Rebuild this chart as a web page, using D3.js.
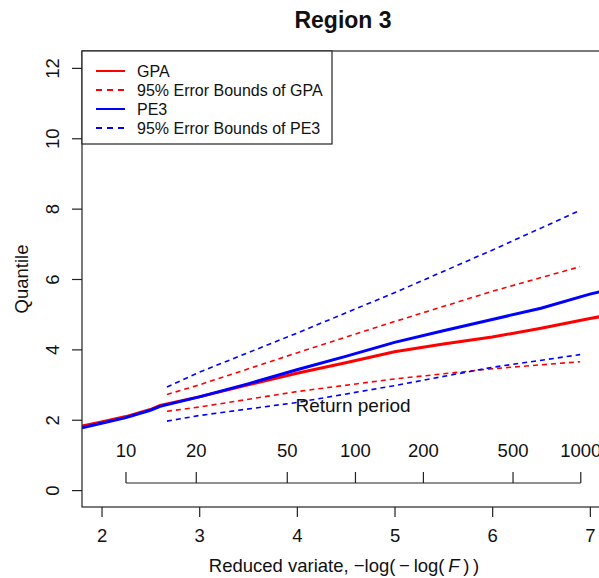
<!DOCTYPE html>
<html>
<head>
<meta charset="utf-8">
<script src="https://cdnjs.cloudflare.com/ajax/libs/d3/7.8.5/d3.min.js"></script>
<style>
  body {margin: 0; background: #fff; overflow: hidden;}
  svg text {font-family: "Liberation Sans", Arial, sans-serif; fill: #111;}
</style>
</head>
<body>
<div id="chart"></div>
<script>
// values
var fitX = [1.8, 2, 2.25, 2.5, 2.6, 3, 3.5, 4, 4.5, 5, 5.5, 6, 6.5, 7, 7.15];
var gpaY = [1.82, 1.94, 2.09, 2.29, 2.41, 2.65, 2.99, 3.32, 3.62, 3.93, 4.15, 4.35, 4.6, 4.88, 4.95];
var pe3Y = [1.77, 1.9, 2.06, 2.27, 2.38, 2.65, 3.02, 3.42, 3.8, 4.2, 4.53, 4.85, 5.17, 5.57, 5.67];

var boundX = [2.67, 3, 4, 5, 6, 6.9];
var gpaUpper = [2.72, 2.99, 3.9, 4.79, 5.65, 6.35];
var gpaLower = [2.24, 2.36, 2.8, 3.16, 3.45, 3.65];
var pe3Upper = [2.93, 3.35, 4.46, 5.61, 6.82, 7.95];
var pe3Lower = [1.96, 2.12, 2.49, 2.97, 3.49, 3.85];

var returnPeriods = [10, 20, 50, 100, 200, 500, 1000];
var xTicks = [2, 3, 4, 5, 6, 7];
var yTicks = [0, 2, 4, 6, 8, 10, 12];

var legendLabels = ["GPA", "95% Error Bounds of GPA", "PE3", "95% Error Bounds of PE3"];
var legendColors = ["#ff0000", "#ff0000", "#0000ff", "#0000ff"];
var legendDashed = [false, true, false, true];

var W = 599, H = 578;
var margin = {top: 51, left: 82, right: -5, bottom: 71};
var fontMain = "18.5px";

var svg = d3.select("#chart").append("svg")
    .attr("width", W)
    .attr("height", H);

var x = d3.scaleLinear()
    .domain([1.8, 7.145])
    .range([margin.left, W - margin.right]);

var y = d3.scaleLinear()
    .domain([-0.48, 12.48])
    .range([H - margin.bottom, margin.top]);

svg.append("clipPath").attr("id", "plotclip")
  .append("rect")
    .attr("x", x.range()[0]).attr("y", y.range()[1])
    .attr("width", x.range()[1] - x.range()[0])
    .attr("height", y.range()[0] - y.range()[1]);

var plot = svg.append("g").attr("clip-path", "url(#plotclip)");

function series(xs, ys) {
  return xs.map(function(d, i) { return [d, ys[i]]; });
}

var line = d3.line()
    .x(function(d) { return x(d[0]); })
    .y(function(d) { return y(d[1]); });

var dashedLines = [
  {data: series(boundX, gpaUpper), color: "#ff0000"},
  {data: series(boundX, gpaLower), color: "#ff0000"},
  {data: series(boundX, pe3Upper), color: "#0000ff"},
  {data: series(boundX, pe3Lower), color: "#0000ff"}
];

dashedLines.forEach(function(s) {
  plot.append("path")
    .datum(s.data)
    .attr("fill", "none")
    .attr("stroke", s.color)
    .attr("stroke-width", 1.6)
    .attr("stroke-dasharray", "5,4")
    .attr("d", line);
});

plot.append("path")
  .datum(series(fitX, gpaY))
  .attr("fill", "none")
  .attr("stroke", "#ff0000")
  .attr("stroke-width", 3)
  .attr("d", line);

plot.append("path")
  .datum(series(fitX, pe3Y))
  .attr("fill", "none")
  .attr("stroke", "#0000ff")
  .attr("stroke-width", 3)
  .attr("d", line);

// plot box
svg.append("rect")
  .attr("x", x.range()[0]).attr("y", y.range()[1])
  .attr("width", x.range()[1] - x.range()[0])
  .attr("height", y.range()[0] - y.range()[1])
  .attr("fill", "none")
  .attr("stroke", "#222")
  .attr("stroke-width", 1.2);

// bottom axis
var xAxis = svg.append("g")
  .attr("transform", "translate(0," + y.range()[0] + ")")
  .call(d3.axisBottom(x).tickValues(xTicks).tickSize(10).tickPadding(12).tickFormat(d3.format("d")));
xAxis.select(".domain").remove();
xAxis.selectAll("line").attr("stroke", "#222").attr("stroke-width", 1.2);
xAxis.selectAll("text").style("font-size", fontMain).style("font-family", "Liberation Sans, Arial, sans-serif").attr("fill", "#111");

// left axis
var yAxis = svg.append("g")
  .attr("transform", "translate(" + x.range()[0] + ",0)")
  .call(d3.axisLeft(y).tickValues(yTicks).tickSize(10).tickFormat(d3.format("d")));
yAxis.select(".domain").remove();
yAxis.selectAll("line").attr("stroke", "#222").attr("stroke-width", 1.2);
yAxis.selectAll("text")
  .style("font-size", fontMain).style("font-family", "Liberation Sans, Arial, sans-serif")
  .attr("fill", "#111")
  .attr("x", null).attr("dy", null)
  .attr("text-anchor", "middle")
  .attr("transform", "translate(-23,0) rotate(-90)");

// return period axis inside the plot
function reducedVariate(T) { return -Math.log(-Math.log(1 - 1 / T)); }
var rpY = 483;
var rp = svg.append("g");
rp.append("line")
  .attr("x1", x(reducedVariate(returnPeriods[0])))
  .attr("x2", x(reducedVariate(returnPeriods[returnPeriods.length - 1])))
  .attr("y1", rpY).attr("y2", rpY)
  .attr("stroke", "#222").attr("stroke-width", 1.2);
rp.selectAll(".rptick").data(returnPeriods).enter().append("line")
  .attr("x1", function(d) { return x(reducedVariate(d)); })
  .attr("x2", function(d) { return x(reducedVariate(d)); })
  .attr("y1", rpY).attr("y2", rpY - 11)
  .attr("stroke", "#222").attr("stroke-width", 1.2);
rp.selectAll(".rplabel").data(returnPeriods).enter().append("text")
  .attr("x", function(d) { return x(reducedVariate(d)); })
  .attr("y", rpY - 26)
  .attr("text-anchor", "middle")
  .style("font-size", fontMain)
  .text(function(d) { return d; });
rp.append("text")
  .attr("x", 353).attr("y", 412)
  .attr("text-anchor", "middle")
  .style("font-size", "19px")
  .text("Return period");

// legend
var lg = svg.append("g");
lg.append("rect")
  .attr("x", x.range()[0]).attr("y", y.range()[1])
  .attr("width", 250).attr("height", 93)
  .attr("fill", "#fff").attr("stroke", "#222").attr("stroke-width", 1.2);
legendLabels.forEach(function(lab, i) {
  var ly = 71 + i * 19;
  lg.append("line")
    .attr("x1", 96).attr("x2", 125).attr("y1", ly).attr("y2", ly)
    .attr("stroke", legendColors[i])
    .attr("stroke-width", 2)
    .attr("stroke-dasharray", legendDashed[i] ? "6,5" : null);
  lg.append("text")
    .attr("x", 137).attr("y", ly + 6)
    .style("font-size", "16px")
    .text(lab);
});

// titles
svg.append("text")
  .attr("x", 343).attr("y", 28)
  .attr("text-anchor", "middle")
  .style("font-size", "23px").style("font-weight", "bold")
  .text("Region 3");

svg.append("text")
  .attr("transform", "translate(28,279) rotate(-90)")
  .attr("text-anchor", "middle")
  .style("font-size", fontMain)
  .text("Quantile");

var xt = svg.append("text")
  .attr("x", 344).attr("y", 572)
  .attr("text-anchor", "middle")
  .style("font-size", fontMain);
xt.append("tspan").text("Reduced variate,  \u2212log(\u2009\u2212\u2009log(\u2009");
xt.append("tspan").style("font-style", "italic").text("F");
xt.append("tspan").text("\u2009)\u2009)");
</script>
</body>
</html>
